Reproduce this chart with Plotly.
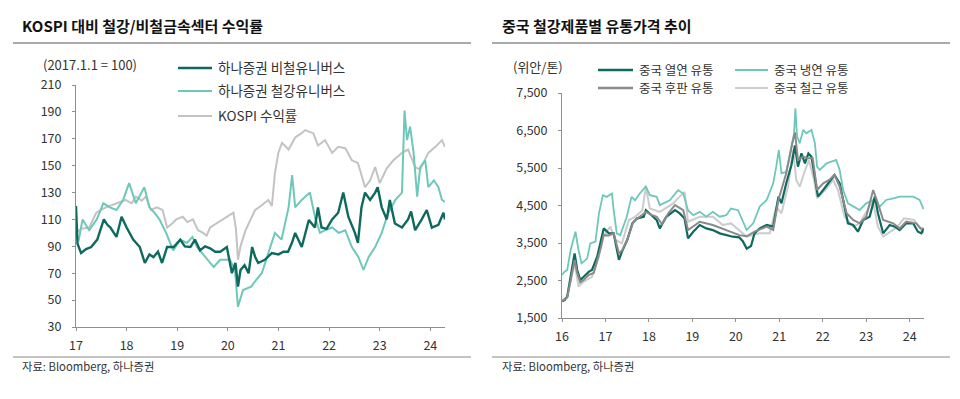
import plotly.graph_objects as go

# ---------------- Left chart data (2017.1.1 = 100) ----------------
bichul_x = [2017.00, 2017.03, 2017.10, 2017.20, 2017.30, 2017.42, 2017.55, 2017.62, 2017.68, 2017.80,
            2017.90, 2018.00, 2018.13, 2018.26, 2018.36, 2018.45, 2018.53, 2018.62, 2018.70, 2018.80,
            2018.93, 2019.06, 2019.15, 2019.26, 2019.35, 2019.45, 2019.55, 2019.65, 2019.75, 2019.85,
            2019.98, 2020.08, 2020.15, 2020.20, 2020.25, 2020.33, 2020.41, 2020.48, 2020.54, 2020.60,
            2020.73, 2020.87, 2021.00, 2021.10, 2021.19, 2021.27, 2021.33, 2021.46, 2021.60, 2021.72,
            2021.78, 2021.85, 2021.95, 2022.06, 2022.18, 2022.28, 2022.38, 2022.51, 2022.57, 2022.64,
            2022.71, 2022.81, 2022.91, 2022.96, 2023.04, 2023.14, 2023.20, 2023.30, 2023.44, 2023.56,
            2023.62, 2023.70, 2023.83, 2023.93, 2024.03, 2024.16, 2024.26, 2024.29]
bichul_y = [120, 92, 85, 88, 89.5, 95, 110, 106, 104, 97,
            112, 104, 95, 89.5, 77.6, 84, 82, 86, 77.6, 89.5,
            89.5, 95, 90, 89.5, 95, 87, 90, 88.5, 86, 86,
            89.5, 70, 77.6, 60, 72.4, 76, 70, 89.5, 82, 77.6,
            80, 85, 84, 86, 86, 93, 100, 89.5, 109.6, 104,
            119, 104, 103, 110, 115, 130, 112, 100, 92.5, 119,
            130, 124.5, 130, 134, 119, 110, 124.5, 107, 104, 110,
            116, 102, 110, 117, 104, 106, 115, 110]

steel_x = [2017.00, 2017.05, 2017.13, 2017.26, 2017.41, 2017.54, 2017.67, 2017.80, 2017.93, 2018.05,
           2018.18, 2018.35, 2018.45, 2018.55, 2018.65, 2018.78, 2018.92, 2019.06, 2019.19, 2019.30,
           2019.39, 2019.55, 2019.72, 2019.85, 2020.04, 2020.14, 2020.20, 2020.30, 2020.46, 2020.56,
           2020.67, 2020.80, 2020.93, 2021.06, 2021.20, 2021.27, 2021.33, 2021.46, 2021.62, 2021.72,
           2021.82, 2021.92, 2022.06, 2022.19, 2022.32, 2022.45, 2022.58, 2022.68, 2022.78, 2022.91,
           2023.04, 2023.17, 2023.31, 2023.44, 2023.49, 2023.54, 2023.60, 2023.67, 2023.74, 2023.80,
           2023.90, 2023.96, 2024.07, 2024.16, 2024.23, 2024.29]
steel_y = [100, 94, 110, 102, 110, 122, 119, 117, 124.5, 137,
           122, 134, 119, 115, 110, 100, 87, 95, 92.5, 97,
           89.5, 82, 74.6, 80, 80, 72.4, 45, 57.5, 60, 65,
           70, 85, 100, 95, 119, 143, 119, 124.5, 130, 112,
           100, 102, 104, 100, 102, 89.5, 82, 72.4, 82, 89.5,
           100, 115, 124.5, 130, 191, 169, 179, 159.5, 127, 149,
           154, 134, 139, 134, 124.5, 123]

kospi_x = [2017.00, 2017.10, 2017.26, 2017.40, 2017.59, 2017.80, 2017.98, 2018.10, 2018.18, 2018.30,
           2018.38, 2018.48, 2018.60, 2018.71, 2018.80, 2018.90, 2018.98, 2019.11, 2019.20, 2019.31,
           2019.41, 2019.51, 2019.58, 2019.65, 2019.78, 2019.90, 2019.98, 2020.06, 2020.11, 2020.16,
           2020.20, 2020.25, 2020.35, 2020.45, 2020.54, 2020.65, 2020.80, 2020.87, 2020.93, 2021.00,
           2021.07, 2021.20, 2021.33, 2021.45, 2021.53, 2021.69, 2021.78, 2021.92, 2022.06, 2022.18,
           2022.32, 2022.45, 2022.57, 2022.71, 2022.81, 2022.91, 2023.00, 2023.14, 2023.27, 2023.44,
           2023.56, 2023.70, 2023.80, 2023.96, 2024.10, 2024.23, 2024.29]
kospi_y = [100, 103, 104, 115, 119, 122, 124.5, 122, 127, 124,
           127, 117, 119, 117, 104, 107, 110, 112, 108, 110,
           102, 100, 98, 104, 107, 110, 112, 114, 115, 103,
           80, 90, 102, 110, 117, 120, 124.5, 120, 144.6, 160,
           167, 162, 171, 174, 176.5, 174, 165, 169, 159.5, 164,
           163, 154, 152, 134, 139, 149, 137, 148, 154, 159.5,
           162, 149, 147, 159.5, 164, 169, 164]

left_ticks = [2017, 2018, 2019, 2020, 2021, 2022, 2023, 2024]
left_ticktext = ["17", "18", "19", "20", "21", "22", "23", "24"]
left_yticks = [30, 50, 70, 90, 110, 130, 150, 170, 190, 210]

# ---------------- Right chart data (위안/톤) ----------------
hr_x = [2016.00, 2016.06, 2016.12, 2016.19, 2016.29, 2016.35, 2016.42, 2016.50, 2016.62, 2016.69,
        2016.81, 2016.88, 2016.96, 2017.08, 2017.19, 2017.25, 2017.31, 2017.38, 2017.50, 2017.62,
        2017.73, 2017.88, 2017.93, 2018.06, 2018.18, 2018.25, 2018.40, 2018.60, 2018.71, 2018.82,
        2018.90, 2019.02, 2019.17, 2019.32, 2019.47, 2019.63, 2019.78, 2019.93, 2020.08, 2020.16,
        2020.25, 2020.35, 2020.43, 2020.55, 2020.71, 2020.86, 2020.98, 2021.05, 2021.16, 2021.28,
        2021.36, 2021.43, 2021.51, 2021.59, 2021.67, 2021.74, 2021.84, 2021.89, 2022.01, 2022.12,
        2022.27, 2022.39, 2022.50, 2022.58, 2022.70, 2022.81, 2022.93, 2023.08, 2023.20, 2023.27,
        2023.39, 2023.54, 2023.66, 2023.77, 2023.92, 2024.08, 2024.19, 2024.27, 2024.32]
hr_y = [1950, 1980, 2070, 2513, 3225, 2780, 2513, 2600, 2736, 2780,
        3136, 3490, 3890, 3758, 3758, 3400, 3050, 3270, 3580, 4025,
        4158, 4200, 4376, 4240, 4110, 3890, 4200, 4376, 4290, 4155,
        3624, 3800, 3980, 3890, 3845, 3757, 3710, 3668, 3650, 3550,
        3350, 3420, 3758, 3890, 3980, 3936, 4736, 4558, 5092, 5580,
        6100, 5536, 5892, 5625, 5892, 5803, 5092, 4736, 4914, 5092,
        5314, 5092, 4470, 4025, 3980, 3802, 4114, 4203, 4736, 4292,
        3758, 3980, 3936, 3847, 4025, 4025, 3802, 3758, 3890]

cr_x = [2016.00, 2016.06, 2016.12, 2016.20, 2016.31, 2016.38, 2016.45, 2016.58, 2016.65, 2016.77,
        2016.85, 2016.94, 2017.03, 2017.15, 2017.18, 2017.26, 2017.34, 2017.49, 2017.60, 2017.68,
        2017.79, 2017.93, 2018.02, 2018.18, 2018.25, 2018.48, 2018.67, 2018.79, 2018.90, 2019.02,
        2019.17, 2019.32, 2019.47, 2019.63, 2019.78, 2019.89, 2020.05, 2020.16, 2020.25, 2020.40,
        2020.55, 2020.71, 2020.86, 2020.93, 2020.99, 2021.05, 2021.16, 2021.28, 2021.34, 2021.37,
        2021.41, 2021.47, 2021.55, 2021.62, 2021.74, 2021.82, 2021.87, 2021.93, 2022.09, 2022.20,
        2022.31, 2022.39, 2022.47, 2022.58, 2022.70, 2022.85, 2023.00, 2023.16, 2023.31, 2023.46,
        2023.62, 2023.77, 2023.92, 2024.08, 2024.23, 2024.32]
cr_y = [2650, 2736, 2780, 3314, 3800, 3314, 2958, 3090, 3490, 3535,
        4290, 4775, 4730, 4820, 4465, 3757, 3710, 4200, 4730, 4640,
        4820, 5010, 4775, 4730, 4510, 4640, 4910, 4820, 4376, 4240,
        4330, 4200, 4330, 4200, 4240, 4420, 4376, 4110, 3847, 4025,
        4470, 4647, 5092, 5536, 5980, 5358, 5400, 6070, 6425, 7090,
        6336, 6158, 6514, 6425, 6514, 6158, 5536, 5447, 5625, 5670,
        5714, 5447, 4914, 4558, 4470, 4380, 4558, 4647, 4470, 4647,
        4690, 4736, 4736, 4736, 4647, 4400]

plate_x = [2016.00, 2016.12, 2016.19, 2016.29, 2016.35, 2016.42, 2016.50, 2016.62, 2016.73, 2016.81,
           2016.90, 2016.96, 2017.08, 2017.19, 2017.31, 2017.38, 2017.50, 2017.64, 2017.80, 2017.93,
           2018.06, 2018.18, 2018.30, 2018.45, 2018.60, 2018.79, 2018.90, 2019.17, 2019.47, 2019.78,
           2020.08, 2020.25, 2020.43, 2020.71, 2020.86, 2020.98, 2021.16, 2021.30, 2021.36, 2021.43,
           2021.55, 2021.67, 2021.77, 2021.87, 2022.01, 2022.15, 2022.27, 2022.39, 2022.55, 2022.70,
           2022.85, 2023.00, 2023.16, 2023.27, 2023.39, 2023.62, 2023.77, 2023.92, 2024.15, 2024.25,
           2024.32]
plate_y = [1950, 2050, 2450, 3050, 2700, 2450, 2520, 2650, 2700, 3000,
           3400, 3710, 3700, 3757, 3225, 3300, 3580, 4066, 4200, 4330,
           4250, 4200, 4000, 4300, 4510, 4376, 3845, 4066, 3980, 3845,
           3710, 3680, 3802, 3936, 3847, 4647, 5358, 6158, 6450, 5714,
           5803, 5758, 5758, 4914, 5092, 5180, 5314, 5003, 4292, 4114,
           4025, 4203, 4914, 4558, 4114, 4025, 3890, 4070, 4025, 3890,
           3890]

rebar_x = [2016.00, 2016.12, 2016.19, 2016.29, 2016.38, 2016.50, 2016.69, 2016.85, 2016.92, 2017.00,
           2017.11, 2017.23, 2017.38, 2017.54, 2017.69, 2017.85, 2017.93, 2018.02, 2018.25, 2018.55,
           2018.70, 2018.82, 2018.90, 2019.17, 2019.47, 2019.70, 2019.89, 2020.08, 2020.25, 2020.55,
           2020.78, 2020.93, 2021.05, 2021.20, 2021.32, 2021.39, 2021.47, 2021.57, 2021.68, 2021.80,
           2021.87, 2022.06, 2022.24, 2022.35, 2022.50, 2022.70, 2022.85, 2023.03, 2023.15, 2023.27,
           2023.39, 2023.56, 2023.72, 2023.87, 2024.10, 2024.25, 2024.32]
rebar_y = [1980, 2050, 2430, 2958, 2336, 2470, 2600, 3136, 3670, 3758,
           3936, 3580, 3490, 4114, 4200, 4376, 4995, 4420, 4330, 4550,
           4730, 4860, 4066, 4200, 4200, 3980, 4022, 3845, 3670, 3758,
           3758, 4470, 4292, 5003, 5980, 5180, 5003, 5358, 5714, 5180,
           4690, 4914, 5180, 4914, 4203, 3936, 4025, 4380, 4647, 3936,
           3670, 3802, 3936, 4158, 4114, 3890, 3760]

right_ticks = [2016, 2017, 2018, 2019, 2020, 2021, 2022, 2023, 2024]
right_ticktext = ["16", "17", "18", "19", "20", "21", "22", "23", "24"]
right_yticks = [1500, 2500, 3500, 4500, 5500, 6500, 7500]

# ---------------- Styling ----------------
W, H = 960, 399
OX, OY = 8, 8  # page body margin: the figure is drawn 8px in from the window corner
FONT = "Noto Sans CJK KR"
DARK = "#0e6a5e"
LIGHT = "#6ec8ba"
KGRAY = "#c3c3c3"
PGRAY = "#8a8a8a"
RGRAY = "#cccccc"
AXIS = "#8f8f8f"
TXT = "#333333"


def px(x):
    return (x - OX) / W


def py(y):
    return (H - (y - OY)) / H


fig = go.Figure()

fig.add_trace(go.Scatter(x=kospi_x, y=kospi_y, mode="lines", line=dict(color=KGRAY, width=2),
                         xaxis="x", yaxis="y", showlegend=False))
fig.add_trace(go.Scatter(x=steel_x, y=steel_y, mode="lines", line=dict(color=LIGHT, width=2),
                         xaxis="x", yaxis="y", showlegend=False))
fig.add_trace(go.Scatter(x=bichul_x, y=bichul_y, mode="lines", line=dict(color=DARK, width=2.4),
                         xaxis="x", yaxis="y", showlegend=False))

fig.add_trace(go.Scatter(x=rebar_x, y=rebar_y, mode="lines", line=dict(color=RGRAY, width=2),
                         xaxis="x2", yaxis="y2", showlegend=False))
fig.add_trace(go.Scatter(x=cr_x, y=cr_y, mode="lines", line=dict(color=LIGHT, width=1.8),
                         xaxis="x2", yaxis="y2", showlegend=False))
fig.add_trace(go.Scatter(x=hr_x, y=hr_y, mode="lines", line=dict(color=DARK, width=2.2),
                         xaxis="x2", yaxis="y2", showlegend=False))
fig.add_trace(go.Scatter(x=plate_x, y=plate_y, mode="lines", line=dict(color=PGRAY, width=2),
                         xaxis="x2", yaxis="y2", showlegend=False))

axis_common = dict(showline=True, linecolor=AXIS, linewidth=1, ticks="outside", ticklen=3,
                   tickcolor=AXIS, showgrid=False, zeroline=False, automargin=False,
                   tickfont=dict(family=FONT, size=12.5, color=TXT), fixedrange=True)

fig.update_layout(
    template="none",
    width=W, height=H, margin=dict(l=0, r=0, t=0, b=0, pad=0, autoexpand=False),
    paper_bgcolor="white", plot_bgcolor="white",
    font=dict(family=FONT, color=TXT),
    showlegend=False,
    xaxis=dict(domain=[px(76), px(445)], range=[2017, 2024.29], tickvals=left_ticks,
               ticktext=left_ticktext, anchor="y", ticklabelstandoff=4, **axis_common),
    yaxis=dict(domain=[py(327), py(85)], range=[30, 210], tickvals=left_yticks,
               anchor="x", ticklabelstandoff=8, **axis_common),
    xaxis2=dict(domain=[px(562), px(924)], range=[2016, 2024.33], tickvals=right_ticks,
                ticktext=right_ticktext, anchor="y2", ticklabelstandoff=4, **axis_common),
    yaxis2=dict(domain=[py(318), py(93)], range=[1500, 7500], tickvals=right_yticks,
                tickformat=",", anchor="x2", ticklabelstandoff=8, **axis_common),
)

shapes = []
annotations = []

# Titles, separators, footers
for x0, x1, tx, title in [(13, 471, 22, "KOSPI 대비 철강/비철금속섹터 수익률"),
                          (492, 950, 502, "중국 철강제품별 유통가격 추이")]:
    shapes.append(dict(type="line", xref="paper", yref="paper", x0=px(x0), x1=px(x1),
                       y0=py(43), y1=py(43), line=dict(color="#555555", width=1)))
    shapes.append(dict(type="line", xref="paper", yref="paper", x0=px(x0), x1=px(x1),
                       y0=py(357), y1=py(357), line=dict(color="#888888", width=1)))
    annotations.append(dict(xref="paper", yref="paper", x=px(tx - 2), y=py(25), xanchor="left",
                            yanchor="middle", showarrow=False, text="<b>" + title + "</b>",
                            font=dict(family=FONT, size=15, color="#111111")))
    annotations.append(dict(xref="paper", yref="paper", x=px(tx - 2), y=py(366), xanchor="left",
                            yanchor="middle", showarrow=False, text="자료: Bloomberg, 하나증권",
                            font=dict(family=FONT, size=11.3, color=TXT)))

# Unit labels
annotations.append(dict(xref="paper", yref="paper", x=px(41), y=py(64), xanchor="left",
                        yanchor="middle", showarrow=False, text="(2017.1.1 = 100)",
                        font=dict(family=FONT, size=13, color=TXT)))
annotations.append(dict(xref="paper", yref="paper", x=px(511), y=py(66), xanchor="left",
                        yanchor="middle", showarrow=False, text="(위안/톤)",
                        font=dict(family=FONT, size=13, color=TXT)))

# Legends (drawn manually)
legend_items = [
    (178, 212, 216, 68, DARK, 2.5, 13.5, "하나증권 비철유니버스"),
    (178, 212, 216, 91, LIGHT, 2, 13.5, "하나증권 철강유니버스"),
    (178, 212, 216, 116, KGRAY, 2, 13.5, "KOSPI 수익률"),
    (598, 633, 637, 70, DARK, 2.5, 12.5, "중국 열연 유통"),
    (735, 768, 772, 70, LIGHT, 2, 12.5, "중국 냉연 유통"),
    (598, 633, 637, 88, PGRAY, 2.5, 12.5, "중국 후판 유통"),
    (735, 768, 772, 88, RGRAY, 2, 12.5, "중국 철근 유통"),
]
for x0, x1, tx, y, col, w, fs, label in legend_items:
    shapes.append(dict(type="line", xref="paper", yref="paper", x0=px(x0), x1=px(x1),
                       y0=py(y), y1=py(y), line=dict(color=col, width=w)))
    annotations.append(dict(xref="paper", yref="paper", x=px(tx), y=py(y - 1), xanchor="left",
                            yanchor="middle", showarrow=False, text=label,
                            font=dict(family=FONT, size=fs, color=TXT)))

fig.update_layout(shapes=shapes, annotations=annotations)

fig.write_html("out.html")
